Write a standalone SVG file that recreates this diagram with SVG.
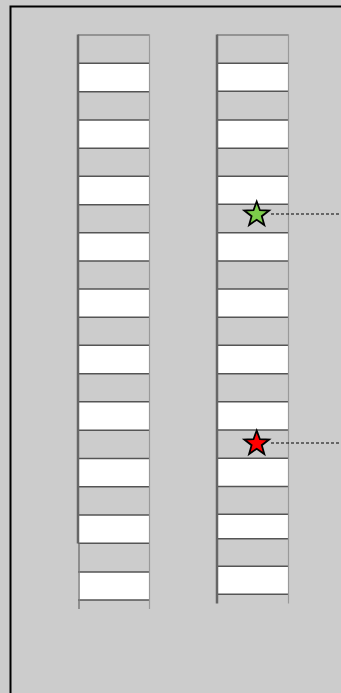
<svg xmlns="http://www.w3.org/2000/svg" width="341" height="693" viewBox="0 0 341 693">
<style>
.bg{fill:#cccccc}
.frame{fill:none;stroke:#000;stroke-width:2}
.w{fill:#ffffff}
.h{stroke:#555;stroke-width:1.6}
.top{stroke:#808080;stroke-width:1.5}
.vl{stroke:#666;stroke-width:2.5}
.vl2{stroke:#7a7a7a;stroke-width:1.5}
.vr{stroke:#999;stroke-width:1.2}
.star{stroke:#000;stroke-width:1.8;stroke-linejoin:miter}
.dash{stroke:#000;stroke-width:1;stroke-dasharray:3,2;fill:none}
</style>
<defs>
<polygon id="starShape" points="0,-13 3.2,-4.3 12.4,-4 5.1,1.7 7.6,10.5 0,5.3 -7.6,10.5 -5.1,1.7 -12.4,-4 -3.2,-4.3"/>
</defs>
<rect class="bg" x="0" y="0" width="341" height="693"/>
<rect class="frame" x="10.5" y="6.5" width="400" height="800"/>

<g id="left-column">
<rect class="w" x="78" y="63.3" width="71.5" height="28.4"/>
<rect class="w" x="78" y="120" width="71.5" height="28.3"/>
<rect class="w" x="78" y="176.3" width="71.5" height="28.4"/>
<rect class="w" x="78" y="232.7" width="71.5" height="28.3"/>
<rect class="w" x="78" y="289" width="71.5" height="28.3"/>
<rect class="w" x="78" y="345.3" width="71.5" height="28.4"/>
<rect class="w" x="78" y="401.7" width="71.5" height="28.6"/>
<rect class="w" x="78" y="458.5" width="71.5" height="28.2"/>
<rect class="w" x="78" y="515" width="71.5" height="28.3"/>
<rect class="w" x="78" y="572" width="71.5" height="28"/>
<line class="top" x1="78" y1="35" x2="149.5" y2="35"/>
<line class="h" x1="78" y1="63.3" x2="149.5" y2="63.3"/>
<line class="h" x1="78" y1="91.7" x2="149.5" y2="91.7"/>
<line class="h" x1="78" y1="120" x2="149.5" y2="120"/>
<line class="h" x1="78" y1="148.3" x2="149.5" y2="148.3"/>
<line class="h" x1="78" y1="176.3" x2="149.5" y2="176.3"/>
<line class="h" x1="78" y1="204.7" x2="149.5" y2="204.7"/>
<line class="h" x1="78" y1="232.7" x2="149.5" y2="232.7"/>
<line class="h" x1="78" y1="261" x2="149.5" y2="261"/>
<line class="h" x1="78" y1="289" x2="149.5" y2="289"/>
<line class="h" x1="78" y1="317.3" x2="149.5" y2="317.3"/>
<line class="h" x1="78" y1="345.3" x2="149.5" y2="345.3"/>
<line class="h" x1="78" y1="373.7" x2="149.5" y2="373.7"/>
<line class="h" x1="78" y1="401.7" x2="149.5" y2="401.7"/>
<line class="h" x1="78" y1="430.3" x2="149.5" y2="430.3"/>
<line class="h" x1="78" y1="458.5" x2="149.5" y2="458.5"/>
<line class="h" x1="78" y1="486.7" x2="149.5" y2="486.7"/>
<line class="h" x1="78" y1="515" x2="149.5" y2="515"/>
<line class="h" x1="78" y1="543.3" x2="149.5" y2="543.3"/>
<line class="h" x1="78" y1="572" x2="149.5" y2="572"/>
<line class="h" x1="78" y1="600" x2="149.5" y2="600"/>
<line class="vl" x1="78" y1="34.5" x2="78" y2="543.5"/>
<line class="vl2" x1="79" y1="543.5" x2="79" y2="609"/>
<line class="vr" x1="149.5" y1="34.5" x2="149.5" y2="609"/>
</g>

<g id="right-column">
<rect class="w" x="217" y="63.3" width="71.5" height="28"/>
<rect class="w" x="217" y="120" width="71.5" height="28.3"/>
<rect class="w" x="217" y="176.3" width="71.5" height="28"/>
<rect class="w" x="217" y="232.7" width="71.5" height="28.3"/>
<rect class="w" x="217" y="289" width="71.5" height="28.3"/>
<rect class="w" x="217" y="345.3" width="71.5" height="28.4"/>
<rect class="w" x="217" y="401.7" width="71.5" height="28.3"/>
<rect class="w" x="217" y="458.3" width="71.5" height="28.2"/>
<rect class="w" x="217" y="514.3" width="71.5" height="24.4"/>
<rect class="w" x="217" y="566.3" width="71.5" height="28"/>
<line class="top" x1="217" y1="35" x2="288.5" y2="35"/>
<line class="h" x1="217" y1="63.3" x2="288.5" y2="63.3"/>
<line class="h" x1="217" y1="91.3" x2="288.5" y2="91.3"/>
<line class="h" x1="217" y1="120" x2="288.5" y2="120"/>
<line class="h" x1="217" y1="148.3" x2="288.5" y2="148.3"/>
<line class="h" x1="217" y1="176.3" x2="288.5" y2="176.3"/>
<line class="h" x1="217" y1="204.3" x2="288.5" y2="204.3"/>
<line class="h" x1="217" y1="232.7" x2="288.5" y2="232.7"/>
<line class="h" x1="217" y1="261" x2="288.5" y2="261"/>
<line class="h" x1="217" y1="289" x2="288.5" y2="289"/>
<line class="h" x1="217" y1="317.3" x2="288.5" y2="317.3"/>
<line class="h" x1="217" y1="345.3" x2="288.5" y2="345.3"/>
<line class="h" x1="217" y1="373.7" x2="288.5" y2="373.7"/>
<line class="h" x1="217" y1="401.7" x2="288.5" y2="401.7"/>
<line class="h" x1="217" y1="430" x2="288.5" y2="430"/>
<line class="h" x1="217" y1="458.3" x2="288.5" y2="458.3"/>
<line class="h" x1="217" y1="486.5" x2="288.5" y2="486.5"/>
<line class="h" x1="217" y1="514.3" x2="288.5" y2="514.3"/>
<line class="h" x1="217" y1="538.7" x2="288.5" y2="538.7"/>
<line class="h" x1="217" y1="566.3" x2="288.5" y2="566.3"/>
<line class="h" x1="217" y1="594.3" x2="288.5" y2="594.3"/>
<line class="vl" x1="217" y1="34.5" x2="217" y2="603.5"/>
<line class="vr" x1="288.5" y1="34.5" x2="288.5" y2="603.5"/>
</g>

<g id="connectors">
<line class="dash" x1="271" y1="214" x2="341" y2="214"/>
<line class="dash" x1="271" y1="443" x2="341" y2="443"/>
</g>

<g id="green-star">
<use href="#starShape" class="star" x="256.7" y="214.5" fill="#7ccc4a"/>
</g>
<g id="red-star">
<use href="#starShape" class="star" x="256.7" y="443.5" fill="#ff0000"/>
</g>
</svg>
